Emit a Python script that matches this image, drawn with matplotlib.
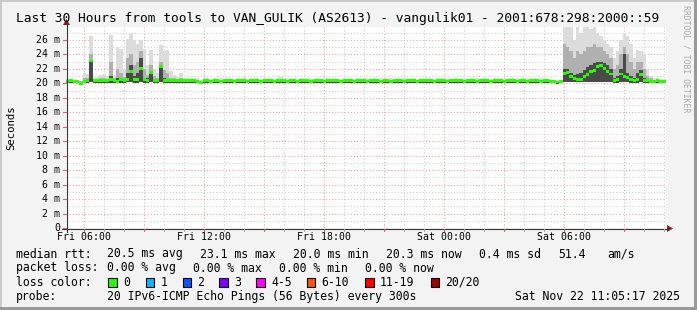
import numpy as np
import matplotlib.pyplot as plt
from matplotlib.lines import Line2D
from matplotlib.patches import Rectangle, Polygon
from matplotlib.transforms import blended_transform_factory

W, H = 697, 310
MONO = "DejaVu Sans Mono"

title = "Last 30 Hours from tools to VAN_GULIK (AS2613) - vangulik01 - 2001:678:298:2000::59"

# 10 minute steps over 30 hours, first step starts Fri 05:05 (values in ms)
median = [
    20.30, 20.35, 20.30, 20.25, 20.00, 20.30,
    20.40, 23.10, 20.35, 20.40, 20.40, 20.35,
    20.45, 20.60, 20.40, 20.30, 20.50, 20.45,
    20.60, 21.60, 20.50, 20.60, 22.00, 20.50,
    20.40, 21.50, 20.40, 20.45, 22.30, 20.40,
    20.45, 20.40, 20.40, 20.35, 20.40, 20.40,
    20.35, 20.40, 20.35, 20.30, 20.10, 20.35,
    20.35, 20.30, 20.40, 20.35, 20.30, 20.40,
    20.35, 20.40, 20.30, 20.45, 20.40, 20.35,
    20.30, 20.35, 20.40, 20.35, 20.30, 20.35,
    20.40, 20.35, 20.30, 20.40, 20.45, 20.35,
    20.30, 20.35, 20.40, 20.30, 20.35, 20.40,
    20.35, 20.30, 20.35, 20.40, 20.35, 20.30,
    20.35, 20.40, 20.45, 20.35, 20.30, 20.35,
    20.40, 20.35, 20.30, 20.35, 20.40, 20.35,
    20.30, 20.35, 20.40, 20.35, 20.30, 20.40,
    20.35, 20.30, 20.35, 20.40, 20.35, 20.30,
    20.35, 20.40, 20.35, 20.30, 20.35, 20.40,
    20.40, 20.35, 20.30, 20.35, 20.40, 20.35,
    20.30, 20.35, 20.40, 20.45, 20.35, 20.30,
    20.35, 20.40, 20.35, 20.30, 20.35, 20.40,
    20.35, 20.30, 20.35, 20.40, 20.35, 20.30,
    20.35, 20.40, 20.35, 20.30, 20.40, 20.35,
    20.30, 20.35, 20.40, 20.35, 20.30, 20.35,
    20.35, 20.30, 20.25, 20.20, 20.25, 21.40,
    21.50, 21.00, 20.70, 20.60, 20.60, 20.90,
    21.20, 21.60, 21.80, 22.30, 22.50, 22.00,
    21.70, 21.30, 20.40, 20.50, 21.30, 21.00,
    20.80, 20.60, 20.40, 20.60, 21.20, 20.40,
    20.35, 20.30, 20.30, 20.35, 20.30, 20.30,
]

# lowest ping of each step
smoke_lo = [
    20.10, 20.10, 20.10, 20.05, 19.90, 20.10,
    20.10, 20.20, 20.10, 20.10, 20.10, 20.10,
    20.10, 20.10, 20.10, 20.10, 20.10, 20.10,
    20.20, 20.20, 20.10, 20.10, 20.20, 20.10,
    20.10, 20.20, 20.10, 20.10, 20.20, 20.10,
    20.10, 20.10, 20.10, 20.10, 20.10, 20.10,
    20.10, 20.10, 20.10, 20.05, 19.90, 20.10,
    20.10, 20.05, 20.10, 20.10, 20.05, 20.10,
    20.10, 20.10, 20.05, 20.10, 20.10, 20.10,
    20.05, 20.10, 20.10, 20.10, 20.05, 20.10,
    20.10, 20.10, 20.05, 20.10, 20.10, 20.10,
    20.05, 20.10, 20.10, 20.05, 20.10, 20.10,
    20.10, 20.05, 20.10, 20.10, 20.10, 20.05,
    20.10, 20.10, 20.10, 20.10, 20.05, 20.10,
    20.10, 20.10, 20.05, 20.10, 20.10, 20.10,
    20.05, 20.10, 20.10, 20.10, 20.05, 20.10,
    20.10, 20.05, 20.10, 20.10, 20.10, 20.05,
    20.10, 20.10, 20.10, 20.05, 20.10, 20.10,
    20.10, 20.10, 20.05, 20.10, 20.10, 20.10,
    20.05, 20.10, 20.10, 20.10, 20.10, 20.05,
    20.10, 20.10, 20.10, 20.05, 20.10, 20.10,
    20.10, 20.05, 20.10, 20.10, 20.10, 20.05,
    20.10, 20.10, 20.10, 20.05, 20.10, 20.10,
    20.05, 20.10, 20.10, 20.10, 20.05, 20.10,
    20.10, 20.05, 20.00, 19.95, 20.00, 20.20,
    20.20, 20.20, 20.20, 20.20, 20.20, 20.20,
    20.20, 20.20, 20.20, 20.20, 20.20, 20.20,
    20.20, 20.20, 20.10, 20.10, 20.20, 20.20,
    20.20, 20.10, 20.10, 20.10, 20.20, 20.10,
    20.10, 20.10, 20.05, 20.10, 20.05, 20.10,
]

# light smoke top (highest pings)
smoke_hi = [
    20.60, 20.60, 20.50, 20.50, 20.40, 21.50,
    21.30, 26.50, 20.80, 20.90, 21.20, 21.30,
    21.00, 26.70, 21.20, 25.00, 24.80, 22.00,
    26.10, 26.90, 26.00, 25.50, 26.00, 24.80,
    22.50, 24.60, 22.00, 21.50, 25.30, 24.50,
    24.60, 21.70, 21.20, 20.90, 21.40, 20.80,
    20.80, 20.70, 20.60, 20.70, 20.50, 20.60,
    20.70, 20.60, 20.80, 20.60, 20.70, 20.60,
    20.60, 20.80, 20.60, 20.70, 20.60, 20.90,
    20.60, 20.70, 20.60, 20.80, 20.60, 20.70,
    20.60, 20.80, 20.60, 20.70, 20.90, 20.60,
    20.70, 20.60, 20.80, 20.60, 20.70, 20.60,
    20.60, 20.70, 20.60, 20.80, 20.60, 20.70,
    20.80, 20.60, 20.70, 20.60, 20.60, 20.70,
    20.60, 20.80, 20.60, 20.70, 20.60, 20.80,
    20.70, 20.60, 20.80, 20.60, 20.70, 20.60,
    20.60, 20.70, 20.60, 20.80, 20.60, 20.70,
    20.80, 20.60, 20.70, 20.60, 20.80, 20.60,
    20.60, 20.70, 20.60, 20.80, 20.70, 20.60,
    20.70, 20.60, 20.80, 20.70, 20.60, 20.70,
    20.60, 20.80, 20.60, 20.70, 20.60, 20.80,
    20.70, 20.60, 20.70, 20.60, 20.80, 20.60,
    20.60, 20.80, 20.60, 20.70, 20.60, 20.70,
    20.70, 20.60, 20.80, 20.60, 20.70, 20.60,
    20.60, 20.60, 20.50, 20.50, 20.50, 27.80,
    27.80, 27.80, 26.00, 27.80, 27.00, 27.80,
    27.80, 27.50, 27.80, 27.00, 26.50, 26.00,
    25.50, 25.00, 23.50, 24.50, 26.00, 27.00,
    26.50, 25.50, 23.50, 24.60, 24.50, 24.00,
    22.00, 21.00, 20.70, 20.70, 20.60, 20.60,
]

# medium smoke top
smoke_mid = [
    20.45, 20.45, 20.40, 20.40, 20.30, 20.70,
    20.70, 24.00, 20.60, 20.60, 20.70, 20.70,
    20.60, 23.00, 20.70, 22.00, 21.50, 20.90,
    23.50, 24.00, 22.50, 23.00, 24.50, 22.00,
    21.20, 22.50, 21.00, 20.80, 23.00, 21.80,
    21.50, 20.80, 20.70, 20.60, 20.70, 20.60,
    20.60, 20.55, 20.50, 20.50, 20.40, 20.50,
    20.50, 20.45, 20.55, 20.50, 20.50, 20.50,
    20.50, 20.55, 20.45, 20.55, 20.50, 20.60,
    20.45, 20.50, 20.50, 20.55, 20.45, 20.50,
    20.50, 20.55, 20.45, 20.50, 20.60, 20.50,
    20.50, 20.50, 20.55, 20.45, 20.50, 20.50,
    20.50, 20.50, 20.50, 20.55, 20.50, 20.50,
    20.55, 20.50, 20.55, 20.50, 20.45, 20.50,
    20.50, 20.55, 20.45, 20.50, 20.50, 20.55,
    20.50, 20.50, 20.55, 20.50, 20.50, 20.50,
    20.50, 20.50, 20.50, 20.55, 20.50, 20.50,
    20.55, 20.50, 20.50, 20.45, 20.55, 20.50,
    20.50, 20.50, 20.45, 20.55, 20.50, 20.50,
    20.50, 20.50, 20.55, 20.55, 20.50, 20.50,
    20.50, 20.55, 20.50, 20.50, 20.50, 20.55,
    20.50, 20.50, 20.50, 20.50, 20.55, 20.50,
    20.50, 20.55, 20.50, 20.50, 20.50, 20.50,
    20.50, 20.50, 20.55, 20.50, 20.50, 20.50,
    20.50, 20.45, 20.40, 20.40, 20.40, 25.50,
    25.00, 24.50, 23.50, 24.50, 24.00, 24.50,
    25.00, 25.00, 25.50, 25.00, 25.00, 24.50,
    24.00, 23.50, 22.00, 22.50, 24.00, 25.00,
    24.00, 23.00, 22.00, 23.00, 23.00, 22.00,
    21.00, 20.70, 20.50, 20.50, 20.50, 20.50,
]

# dark smoke top
smoke_dark = [
    20.35, 20.40, 20.35, 20.30, 20.20, 20.45,
    20.45, 23.30, 20.45, 20.45, 20.45, 20.45,
    20.50, 21.00, 20.50, 20.80, 20.70, 20.60,
    21.50, 22.50, 21.00, 21.50, 23.50, 20.80,
    20.70, 21.60, 20.60, 20.50, 22.50, 20.70,
    20.60, 20.50, 20.50, 20.45, 20.50, 20.45,
    20.45, 20.45, 20.40, 20.35, 20.20, 20.40,
    20.40, 20.35, 20.45, 20.40, 20.35, 20.45,
    20.40, 20.45, 20.35, 20.50, 20.45, 20.40,
    20.35, 20.40, 20.45, 20.40, 20.35, 20.40,
    20.45, 20.40, 20.35, 20.45, 20.50, 20.40,
    20.35, 20.40, 20.45, 20.35, 20.40, 20.45,
    20.40, 20.35, 20.40, 20.45, 20.40, 20.35,
    20.40, 20.45, 20.50, 20.40, 20.35, 20.40,
    20.45, 20.40, 20.35, 20.40, 20.45, 20.40,
    20.35, 20.40, 20.45, 20.40, 20.35, 20.45,
    20.40, 20.35, 20.40, 20.45, 20.40, 20.35,
    20.40, 20.45, 20.40, 20.35, 20.40, 20.45,
    20.45, 20.40, 20.35, 20.40, 20.45, 20.40,
    20.35, 20.40, 20.45, 20.50, 20.40, 20.35,
    20.40, 20.45, 20.40, 20.35, 20.40, 20.45,
    20.40, 20.35, 20.40, 20.45, 20.40, 20.35,
    20.40, 20.45, 20.40, 20.35, 20.45, 20.40,
    20.35, 20.40, 20.45, 20.40, 20.35, 20.40,
    20.40, 20.35, 20.30, 20.25, 20.30, 22.00,
    22.00, 21.50, 21.20, 21.30, 21.50, 21.80,
    22.20, 22.50, 22.80, 23.00, 23.00, 22.80,
    22.50, 22.00, 20.80, 21.00, 22.00, 24.00,
    21.50, 21.00, 20.80, 21.50, 21.80, 20.80,
    20.60, 20.50, 20.40, 20.40, 20.40, 20.40,
]

time_labels = ["Fri 06:00", "Fri 12:00", "Fri 18:00", "Sat 00:00", "Sat 06:00"]
y_ticks = list(range(0, 27, 2))

median_stats = ["20.5 ms avg", "23.1 ms max", "20.0 ms min", "20.3 ms now", "0.4 ms sd", "51.4", "am/s"]
loss_stats = ["0.00 % avg", "0.00 % max", "0.00 % min", "0.00 % now"]
loss_names = ["0", "1", "2", "3", "4-5", "6-10", "11-19", "20/20"]
loss_colors = ["#26ff00", "#00b8ff", "#0059ff", "#7e00ff", "#ff00ff", "#ff5500", "#ff0000", "#a10000"]
probe_text = "20 IPv6-ICMP Echo Pings (56 Bytes) every 300s"
stamp = "Sat Nov 22 11:05:17 2025"


def fx(px):
    return px / W


def fy(py):
    return 1 - py / H


fig = plt.figure(figsize=(W / 100, H / 100), dpi=100, facecolor="#f3f3f3")

# frame shading
fig.add_artist(Rectangle((0, fy(2)), 1, 2 / H, transform=fig.transFigure, color="#cbcbcb", lw=0))
fig.add_artist(Rectangle((0, 0), 2 / W, 1, transform=fig.transFigure, color="#cbcbcb", lw=0))
fig.add_artist(Rectangle((0, 0), 1, 3 / H, transform=fig.transFigure, color="#999999", lw=0))
fig.add_artist(Rectangle((fx(W - 3), 0), 3 / W, 1, transform=fig.transFigure, color="#999999", lw=0))

x0, x1, y0, y1 = 66, 666, 27, 228
ax = fig.add_axes([fx(x0), fy(y1), (x1 - x0) / W, (y1 - y0) / H])
ax.set_facecolor("white")
for s in ax.spines.values():
    s.set_visible(False)
ax.set_xlim(0, 30)
ax.set_ylim(0, 27.8)
ax.set_xticks([])
ax.set_yticks([])

# grid
first = 55 / 60
for k in range(30):
    h = first + k
    major = k % 3 == 0
    ax.axvline(h, color="#f0a0a0" if major else "#cfcfcf", lw=0.75,
               linestyle=(0, (1, 2)), zorder=1)
for v in range(1, 28):
    major = v % 2 == 0
    ax.axhline(v, color="#f0a0a0" if major else "#cfcfcf", lw=0.75,
               linestyle=(0, (1, 2)), zorder=1)

edges = np.arange(len(median) + 1) / 6
lo = np.array(smoke_lo)
ax.stairs(smoke_hi, edges, baseline=lo, fill=True, color="#dcdcdc", zorder=2)
ax.stairs(smoke_mid, edges, baseline=lo, fill=True, color="#b0b0b0", zorder=3)
ax.stairs(smoke_dark, edges, baseline=lo, fill=True, color="#4a4a4a", zorder=4)
med = np.array(median)
ax.stairs(med + 0.2, edges, baseline=med - 0.2, fill=True, color="#26ff00", zorder=5)

# axes lines and arrows
axis_col = "#333333"
arrow_col = "#8b1a1a"
fig.add_artist(Line2D([fx(62), fx(668)], [fy(228.5)] * 2, color=axis_col, lw=0.8))
fig.add_artist(Line2D([fx(66.5)] * 2, [fy(232), fy(24)], color=axis_col, lw=0.8))
fig.add_artist(Polygon([[fx(667), fy(225)], [fx(673), fy(228.5)], [fx(667), fy(232)]],
                       closed=True, transform=fig.transFigure, color=arrow_col, lw=0))
fig.add_artist(Polygon([[fx(63), fy(25)], [fx(66.5), fy(19)], [fx(70), fy(25)]],
                       closed=True, transform=fig.transFigure, color=arrow_col, lw=0))

# x tick marks and labels
bt = blended_transform_factory(ax.transData, fig.transFigure)
for k in range(30):
    h = first + k
    col = "#e06060" if k % 3 == 0 else "#aaaaaa"
    fig.add_artist(Line2D([fx(x0 + h * 20)] * 2, [fy(229), fy(231)], color=col, lw=0.8))
for i, lab in enumerate(time_labels):
    ax.text(first + 6 * i, fy(237.5), lab, transform=bt, ha="center", va="center",
            family=MONO, fontsize=7.1, clip_on=False)

# y labels
bl = blended_transform_factory(fig.transFigure, ax.transData)
for v in y_ticks:
    ax.text(fx(60), v, "0" if v == 0 else f"{v} m", transform=bl, ha="right", va="center",
            family=MONO, fontsize=7.1, clip_on=False)
    fig.add_artist(Line2D([fx(63), fx(66)], [fy(228 - v * 188 / 26)] * 2, color="#e06060", lw=0.8))

fig.text(fx(11), fy(128), "Seconds", rotation=90, ha="center", va="center",
         family=MONO, fontsize=7.7)
fig.text(fx(16), fy(18.5), title, ha="left", va="center", family=MONO, fontsize=9.3)
fig.text(fx(686), fy(5), "RRDTOOL / TOBI OETIKER", rotation=270, ha="center", va="top",
         family=MONO, fontsize=5.9, color="#a8a8a8")

# legend
fs = 8.3
r1, r2, r3, r4 = 254, 268, 282, 296.5
fig.text(fx(16), fy(r1), "median rtt:", family=MONO, fontsize=fs, va="center")
for xp, s in zip([107, 200, 293, 386, 479, 558, 607], median_stats):
    fig.text(fx(xp), fy(r1), s, family=MONO, fontsize=fs, va="center")
fig.text(fx(16), fy(r2), "packet loss:", family=MONO, fontsize=fs, va="center")
for xp, s in zip([107, 193, 279, 365], loss_stats):
    fig.text(fx(xp), fy(r2), s, family=MONO, fontsize=fs, va="center")
fig.text(fx(16), fy(r3), "loss color:", family=MONO, fontsize=fs, va="center")
box_x = [108, 145.5, 182.5, 219, 256, 306.5, 365, 430.5]
for bx, name, c in zip(box_x, loss_names, loss_colors):
    fig.add_artist(Rectangle((fx(bx), fy(r3 + 4.5)), 8.5 / W, 8.5 / H, transform=fig.transFigure,
                             facecolor=c, edgecolor="black", lw=0.8))
    fig.text(fx(bx + 15), fy(r3), name, family=MONO, fontsize=fs, va="center")
fig.text(fx(16), fy(r4), "probe:", family=MONO, fontsize=fs, va="center")
fig.text(fx(107), fy(r4), probe_text, family=MONO, fontsize=fs, va="center")
fig.text(fx(680), fy(r4), stamp, family=MONO, fontsize=fs, va="center", ha="right")

fig.savefig("out.png", dpi=100, facecolor=fig.get_facecolor())
